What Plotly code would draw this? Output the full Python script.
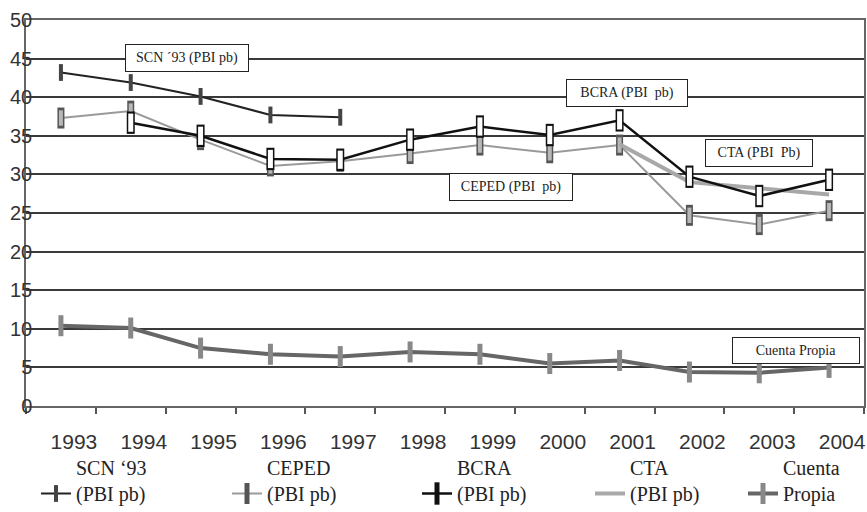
import plotly.graph_objects as go

years = ["1993", "1994", "1995", "1996", "1997", "1998", "1999", "2000", "2001", "2002", "2003", "2004"]
scn93 = [43.2, 41.9, 40.1, 37.7, 37.4, None, None, None, None, None, None, None]
ceped = [37.3, 38.2, 34.5, 31.1, 31.7, 32.7, 33.8, 32.8, 33.8, 24.7, 23.5, 25.3]
bcra = [None, 36.7, 35.0, 32.0, 31.9, 34.5, 36.2, 35.1, 37.0, 29.7, 27.2, 29.3]
cta = [None, None, None, None, None, None, None, None, 33.9, 29.0, 28.2, 27.4]
cuenta = [10.4, 10.1, 7.5, 6.7, 6.4, 7.0, 6.7, 5.5, 5.9, 4.4, 4.3, 5.0]

names = {
    "scn": "SCN ‘93<br>(PBI pb)",
    "ceped": "CEPED<br>(PBI pb)",
    "bcra": "BCRA<br>(PBI pb)",
    "cta": "CTA<br>(PBI pb)",
    "cuenta": "Cuenta<br>Propia",
}

fig = go.Figure()

# CEPED
fig.add_trace(go.Scatter(x=years, y=ceped, name=names["ceped"], legend="legend2",
                         mode="lines+markers", line=dict(color="#9a9a9a", width=2),
                         marker=dict(symbol="line-ns", size=15, line=dict(color="#555", width=7))))
fig.add_trace(go.Scatter(x=years, y=ceped, showlegend=False, mode="markers", hoverinfo="skip",
                         marker=dict(symbol="line-ns", size=11, line=dict(color="#b8b8b8", width=4))))
# CTA
fig.add_trace(go.Scatter(x=years, y=cta, name=names["cta"], legend="legend4",
                         mode="lines", line=dict(color="#a8a8a8", width=4)))
# BCRA
fig.add_trace(go.Scatter(x=years, y=bcra, name=names["bcra"], legend="legend3",
                         mode="lines+markers", line=dict(color="#111", width=2.5),
                         marker=dict(symbol="line-ns", size=16, line=dict(color="#111", width=8))))
fig.add_trace(go.Scatter(x=years, y=bcra, showlegend=False, mode="markers", hoverinfo="skip",
                         marker=dict(symbol="line-ns", size=13, line=dict(color="white", width=5))))
# SCN 93
fig.add_trace(go.Scatter(x=years, y=scn93, name=names["scn"], legend="legend",
                         mode="lines+markers", line=dict(color="#222", width=2),
                         marker=dict(symbol="line-ns", size=12, line=dict(color="#444", width=4))))
# Cuenta Propia
fig.add_trace(go.Scatter(x=years, y=cuenta, name=names["cuenta"], legend="legend5",
                         mode="lines+markers", line=dict(color="#666", width=4),
                         marker=dict(symbol="line-ns", size=15, line=dict(color="#888", width=5))))

legfont = dict(family="Liberation Serif, Times New Roman, serif", size=20, color="#222")
leg_x = [36, 227, 417, 590, 743]
leg_common = dict(xref="container", yref="container", xanchor="left", yanchor="top",
                  y=1 - 448 / 512, bgcolor="rgba(0,0,0,0)", font=legfont,
                  itemwidth=30, valign="bottom", orientation="v")

annfont = dict(family="Liberation Serif, Times New Roman, serif", size=14, color="#222")
boxes = [
    ("SCN ´93 (PBI pb)", 1.8, 45.1, 112),
    ("BCRA (PBI  pb)", 8.11, 40.5, 110),
    ("CTA (PBI  Pb)", 9.99, 32.8, 96),
    ("CEPED (PBI  pb)", 6.45, 28.4, 112),
    ("Cuenta Propia", 10.52, 7.2, 116),
]
annotations = [dict(text=t, x=x, y=y, xref="x", yref="y", showarrow=False, font=annfont,
                    bgcolor="white", bordercolor="#222", borderwidth=1, borderpad=5, width=w)
               for t, x, y, w in boxes]

tickfont = dict(family="Liberation Sans, Arial, sans-serif", size=21, color="#333")

yaxis = dict(range=[0, 50], dtick=5, tick0=0, showgrid=True, gridcolor="#3a3a3a",
             gridwidth=1.5, showline=True, linecolor="#666", linewidth=1.5, mirror=True,
             ticks="", tickfont=dict(family="Liberation Sans, Arial, sans-serif", size=20, color="#333"),
             zeroline=False, automargin=False)

fig.update_layout(
    width=867, height=512,
    margin=dict(l=26, r=3, t=20, b=106, autoexpand=False),
    paper_bgcolor="white", plot_bgcolor="white",
    legend=dict(x=leg_x[0] / 867, **leg_common),
    legend2=dict(x=leg_x[1] / 867, **leg_common),
    legend3=dict(x=leg_x[2] / 867, **leg_common),
    legend4=dict(x=leg_x[3] / 867, **leg_common),
    legend5=dict(x=leg_x[4] / 867, **leg_common),
    annotations=annotations,
    xaxis=dict(type="category", categoryorder="array", categoryarray=years,
               range=[-0.5, 11.5], tickson="boundaries", ticks="outside", ticklen=6,
               tickcolor="#555", tickwidth=1.5, showline=True, linecolor="#666", linewidth=1.5,
               mirror=True, showgrid=False, tickfont=tickfont, ticklabelshift=13,
               ticklabelstandoff=16, tickangle=0, automargin=False),
    yaxis=yaxis,
)

try:
    fig.update_yaxes(ticklabelstandoff=-12)
except Exception:
    fig.update_layout(margin=dict(l=30))

fig.write_html("out.html")
